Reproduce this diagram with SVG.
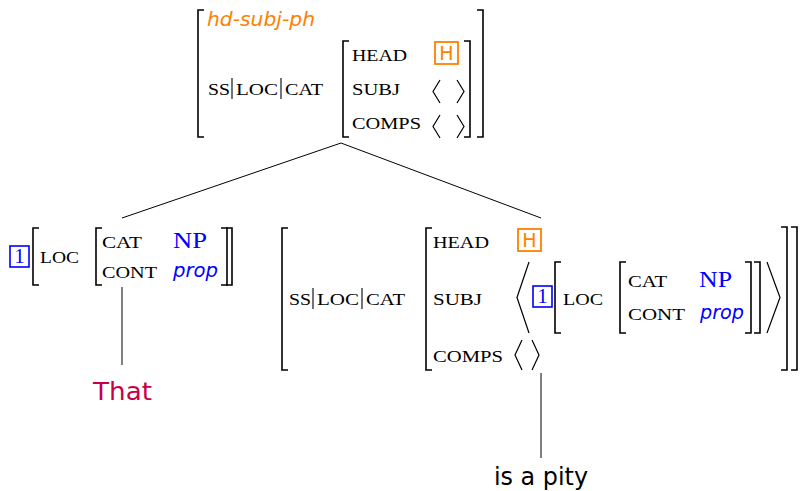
<svg xmlns="http://www.w3.org/2000/svg" width="801" height="491" viewBox="0 0 801 491">
  <style>
    .br { fill: none; stroke: #000; stroke-width: 1.6; }
    .ang { fill: none; stroke: #000; stroke-width: 1.2; }
    .edge { fill: none; stroke: #000; stroke-width: 1; }
    .bar { stroke: #000; stroke-width: 1.1; }
    .sc { font-family: "Liberation Serif", "Times New Roman", serif; font-size: 17.5px; fill: #000; }
    .np { font-family: "Liberation Serif", "Times New Roman", serif; font-size: 23px; fill: #0000ff; }
    .tag { font-family: "Liberation Serif", "Times New Roman", serif; font-size: 21px; fill: #0000ff; text-anchor: middle; }
    .tagbox { fill: none; stroke: #0000ff; stroke-width: 1.6; }
    .hbox { fill: none; stroke: #ff8000; stroke-width: 1.8; }
    .htxt { font-family: "DejaVu Sans", sans-serif; font-size: 19px; fill: #ff8000; text-anchor: middle; }
    .type { font-family: "DejaVu Sans", sans-serif; font-style: italic; font-size: 19px; fill: #ff8000; }
    .prop { font-family: "DejaVu Sans", sans-serif; font-style: italic; font-size: 19px; fill: #0000ff; }
    .word { font-family: "DejaVu Sans", sans-serif; font-size: 24px; }
  </style>

  <!-- tree edges -->
  <g id="connectors">
    <line class="edge" x1="341" y1="143" x2="122" y2="218"/>
    <line class="edge" x1="341" y1="143" x2="541" y2="218"/>
    <line class="edge" x1="122" y1="287" x2="122" y2="365"/>
    <line class="edge" x1="541" y1="373" x2="541" y2="458"/>
  </g>

  <!-- mother: hd-subj-ph -->
  <g id="mother">
    <path class="br" d="M204 10 H198 V137 H204"/>
    <path class="br" d="M477 10 H483 V137 H477"/>
    <text class="type" x="207" y="26" textLength="108" lengthAdjust="spacingAndGlyphs">hd-subj-ph</text>
    <text class="sc" x="208" y="95" textLength="22" lengthAdjust="spacingAndGlyphs">SS</text>
    <line class="bar" x1="232" y1="78" x2="232" y2="99"/>
    <text class="sc" x="236" y="95" textLength="42" lengthAdjust="spacingAndGlyphs">LOC</text>
    <line class="bar" x1="281" y1="78" x2="281" y2="99"/>
    <text class="sc" x="285" y="95" textLength="38" lengthAdjust="spacingAndGlyphs">CAT</text>
    <path class="br" d="M349 41 H343 V137 H349"/>
    <path class="br" d="M464 41 H470 V137 H464"/>
    <text class="sc" x="352" y="61" textLength="55" lengthAdjust="spacingAndGlyphs">HEAD</text>
    <rect class="hbox" x="435" y="42" width="23" height="22"/>
    <text class="htxt" x="446.5" y="60">H</text>
    <text class="sc" x="352" y="95" textLength="48" lengthAdjust="spacingAndGlyphs">SUBJ</text>
    <polyline class="ang" points="440,80 433,91.5 440,103"/>
    <polyline class="ang" points="457,80 464,91.5 457,103"/>
    <text class="sc" x="352" y="129" textLength="69" lengthAdjust="spacingAndGlyphs">COMPS</text>
    <polyline class="ang" points="440,115 433,126.5 440,138"/>
    <polyline class="ang" points="457,115 464,126.5 457,138"/>
  </g>

  <!-- subject daughter -->
  <g id="subject">
    <rect class="tagbox" x="10" y="246" width="19" height="21"/>
    <text class="tag" x="19.5" y="263">1</text>
    <path class="br" d="M39 228 H33 V285 H39"/>
    <text class="sc" x="40" y="263" textLength="39" lengthAdjust="spacingAndGlyphs">LOC</text>
    <path class="br" d="M102 228 H96 V285 H102"/>
    <text class="sc" x="102" y="248" textLength="40" lengthAdjust="spacingAndGlyphs">CAT</text>
    <text class="np" x="173" y="248" textLength="34" lengthAdjust="spacingAndGlyphs">NP</text>
    <text class="sc" x="102" y="278" textLength="55" lengthAdjust="spacingAndGlyphs">CONT</text>
    <text class="prop" x="173" y="277" textLength="45" lengthAdjust="spacingAndGlyphs">prop</text>
    <path class="br" d="M221 228 H227 V285 H221"/>
    <path class="br" d="M226 228 H232 V285 H226"/>
  </g>

  <!-- head daughter -->
  <g id="head">
    <path class="br" d="M288 228 H282 V370 H288"/>
    <text class="sc" x="289" y="305" textLength="22" lengthAdjust="spacingAndGlyphs">SS</text>
    <line class="bar" x1="313" y1="288" x2="313" y2="309"/>
    <text class="sc" x="317" y="305" textLength="42" lengthAdjust="spacingAndGlyphs">LOC</text>
    <line class="bar" x1="362" y1="288" x2="362" y2="309"/>
    <text class="sc" x="366" y="305" textLength="39" lengthAdjust="spacingAndGlyphs">CAT</text>
    <path class="br" d="M432 228 H426 V370 H432"/>
    <text class="sc" x="433" y="248" textLength="56" lengthAdjust="spacingAndGlyphs">HEAD</text>
    <rect class="hbox" x="518" y="229" width="23" height="22"/>
    <text class="htxt" x="529.5" y="247">H</text>
    <text class="sc" x="433" y="305" textLength="49" lengthAdjust="spacingAndGlyphs">SUBJ</text>
    <polyline class="ang" points="529,262 517,297.5 529,333"/>
    <rect class="tagbox" x="533" y="286" width="19" height="21"/>
    <text class="tag" x="542.5" y="303">1</text>
    <path class="br" d="M561 262 H555 V333 H561"/>
    <text class="sc" x="563" y="305" textLength="40" lengthAdjust="spacingAndGlyphs">LOC</text>
    <path class="br" d="M626 262 H620 V333 H626"/>
    <text class="sc" x="628" y="287" textLength="39" lengthAdjust="spacingAndGlyphs">CAT</text>
    <text class="np" x="699" y="287" textLength="33" lengthAdjust="spacingAndGlyphs">NP</text>
    <text class="sc" x="628" y="320" textLength="57" lengthAdjust="spacingAndGlyphs">CONT</text>
    <text class="prop" x="700" y="319" textLength="44" lengthAdjust="spacingAndGlyphs">prop</text>
    <path class="br" d="M745 262 H751 V333 H745"/>
    <path class="br" d="M754 262 H760 V333 H754"/>
    <polyline class="ang" points="767,262 780,297.5 767,333"/>
    <text class="sc" x="433" y="362" textLength="70" lengthAdjust="spacingAndGlyphs">COMPS</text>
    <polyline class="ang" points="522,340 515,355 522,370"/>
    <polyline class="ang" points="532,340 539,355 532,370"/>
    <path class="br" d="M781 227 H787 V370 H781"/>
    <path class="br" d="M791 227 H797 V370 H791"/>
  </g>

  <!-- leaves -->
  <g id="leaf-that">
    <text class="word" x="93" y="400" fill="#c8004a" font-size="26" textLength="59" lengthAdjust="spacingAndGlyphs">That</text>
  </g>
  <g id="leaf-pity">
    <text class="word" x="494" y="485" fill="#000" textLength="94" lengthAdjust="spacingAndGlyphs">is a pity</text>
  </g>
</svg>
